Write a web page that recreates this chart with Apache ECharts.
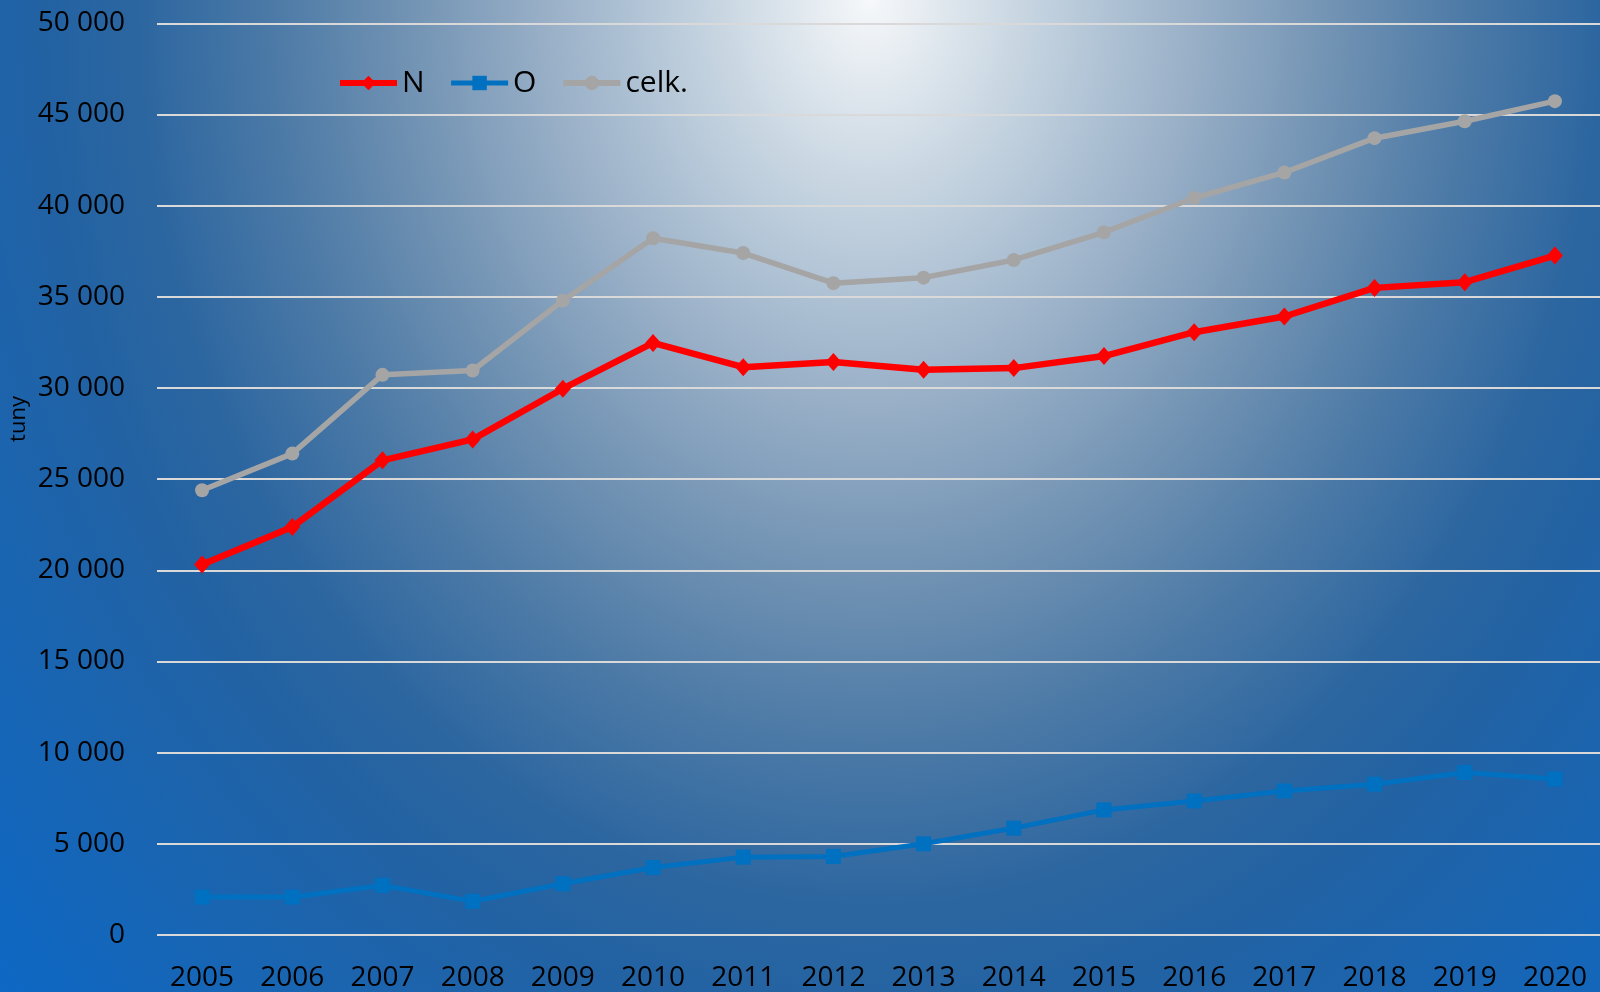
<!DOCTYPE html>
<html>
<head>
<meta charset="utf-8">
<script src="https://cdn.jsdelivr.net/npm/echarts@6/dist/echarts.min.js"></script>
<style>
html,body{margin:0;padding:0;width:1600px;height:992px;overflow:hidden;}
#c{width:1600px;height:992px;}
</style>
</head>
<body>
<div id="c"></div>
<script>
const years = ['2005','2006','2007','2008','2009','2010','2011','2012','2013','2014','2015','2016','2017','2018','2019','2020'];
const seriesN = [20320, 22380, 26030, 27180, 29960, 32470, 31140, 31420, 31000, 31090, 31750, 33060, 33920, 35490, 35800, 37260];
const seriesO = [2080, 2080, 2720, 1850, 2810, 3700, 4270, 4310, 5000, 5860, 6860, 7350, 7900, 8270, 8910, 8550];
const seriesCelk = [24390, 26400, 30720, 30960, 34790, 38210, 37400, 35750, 36050, 37020, 38540, 40420, 41820, 43700, 44630, 45730];
const seriesNames = ['N', 'O', 'celk.'];
const yAxisName = 'tuny';

const FONT = '"Open Sans", "Noto Sans", sans-serif';
const fmt = v => String(v).replace(/\B(?=(\d{3})+(?!\d))/g, ' ');

const chart = echarts.init(document.getElementById('c'), null, {renderer: 'canvas'});
chart.setOption({
  animation: false,
  backgroundColor: '#1F62A5',
  graphic: [
    {
      type: 'rect', z: -10, silent: true, scaleY: 1.24,
      shape: {x: 0, y: 0, width: 1600, height: 800},
      style: {
        fill: {
          type: 'radial', x: 870, y: 0, r: 1180, global: true,
          colorStops: [
            {offset: 0, color: '#F6F8FA'},
            {offset: 0.12, color: '#CBD8E3'},
            {offset: 0.2, color: '#B0C3D5'},
            {offset: 0.28, color: '#97AEC6'},
            {offset: 0.4, color: '#6F91B2'},
            {offset: 0.5, color: '#4E7BA7'},
            {offset: 0.62, color: '#2C66A0'},
            {offset: 0.7, color: '#2262A3'},
            {offset: 1, color: '#0E68C4'}
          ]
        }
      }
    },
    {
      type: 'text', x: 19, y: 419, rotation: Math.PI / 2, silent: true,
      style: {text: yAxisName, font: '22px ' + FONT, fill: '#000', align: 'center', verticalAlign: 'middle'}
    }
  ],
  legend: {
    left: 337, top: 68, padding: 0,
    itemWidth: 57, itemHeight: 18, itemGap: 24,
    textStyle: {fontFamily: FONT, fontSize: 30, color: '#000'},
    data: [
      {name: seriesNames[0], lineStyle: {width: 6}},
      {name: seriesNames[1], lineStyle: {width: 5}},
      {name: seriesNames[2], lineStyle: {width: 6}}
    ]
  },
  grid: {left: 157, right: 0, top: 23.3, bottom: 55, containLabel: false},
  xAxis: {
    type: 'category', data: years, boundaryGap: true,
    axisLine: {show: false}, axisTick: {show: false},
    axisLabel: {fontFamily: FONT, fontSize: 28, color: '#000', margin: 29, interval: 0}
  },
  yAxis: {
    type: 'value', min: 0, max: 50000, interval: 5000,
    axisLine: {show: false}, axisTick: {show: false},
    axisLabel: {fontFamily: FONT, fontSize: 28, color: '#000', margin: 32, formatter: fmt},
    splitLine: {show: true, lineStyle: {color: '#D9D9D9', width: 2}}
  },
  series: [
    {
      name: seriesNames[0], type: 'line', data: seriesN,
      symbol: 'diamond', symbolSize: [16, 18],
      lineStyle: {color: '#FF0000', width: 6.5}, itemStyle: {color: '#FF0000'}, z: 4
    },
    {
      name: seriesNames[1], type: 'line', data: seriesO,
      symbol: 'rect', symbolSize: 15,
      lineStyle: {color: '#0070C0', width: 5}, itemStyle: {color: '#0070C0'}, z: 3
    },
    {
      name: seriesNames[2], type: 'line', data: seriesCelk,
      symbol: 'circle', symbolSize: 14,
      lineStyle: {color: '#A5A5A5', width: 5.5}, itemStyle: {color: '#A5A5A5'}, z: 2
    }
  ]
});
</script>
</body>
</html>
